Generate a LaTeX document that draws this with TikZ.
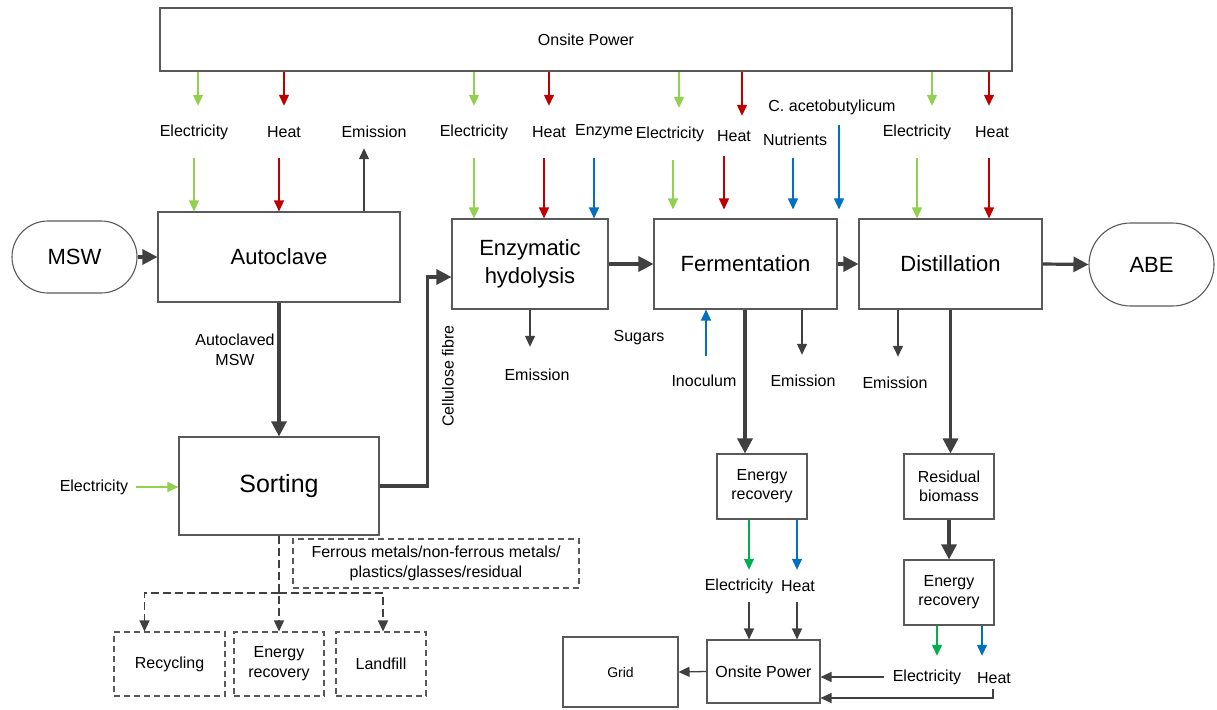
\documentclass[tikz,border=0pt]{standalone}
\usepackage{fontspec}
\setmainfont{Liberation Sans}
\usepackage{tikz}
\usetikzlibrary{arrows.meta,shapes.misc}
\definecolor{elecgreen}{HTML}{92D050}
\definecolor{outgreen}{HTML}{00B050}
\definecolor{heatred}{HTML}{C00000}
\definecolor{feedblue}{HTML}{0070C0}
\definecolor{flowgray}{HTML}{404040}
\definecolor{boxgray}{HTML}{595959}
\tikzset{>={Triangle[length=11pt,width=10pt]}}
\tikzset{
  proc/.style 2 args={draw=boxgray, line width=1.1pt, minimum width=#1,
    minimum height=#2, inner sep=0pt, align=center,
    font=\fontsize{22}{28}\selectfont},
  term/.style={rounded rectangle, draw=boxgray, line width=1.1pt,
    minimum width=125pt, minimum height=#1, inner sep=0pt,
    font=\fontsize{22}{28}\selectfont},
  smallbox/.style 2 args={proc={#1}{#2}, font=\fontsize{16}{19}\selectfont},
  optbox/.style 2 args={smallbox={#1}{#2}, dash pattern=on 6pt off 4pt,
    font=\fontsize{16}{20}\selectfont},
  lbl/.style={inner sep=0pt, minimum height=#1, align=center,
    font=\fontsize{16}{20}\selectfont},
  lbl/.default=52pt,
  elec/.style={elecgreen, line width=1.3pt, ->},
  elecout/.style={outgreen, line width=1.3pt, ->},
  heat/.style={heatred, line width=1.3pt, ->},
  feed/.style={feedblue, line width=1.3pt, ->},
  outflow/.style={flowgray, line width=1.3pt, ->},
  mainflow/.style={flowgray, line width=3.2pt, -{Triangle[length=15pt,width=15pt]}},
  sideflow/.style={flowgray, line width=1.4pt, dash pattern=on 8pt off 4pt},
}

\begin{document}
\begin{tikzpicture}[x=1pt,y=-1pt]
  \useasboundingbox (0,0) rectangle (1217,709);

  % Processes
  \node[proc={852pt}{63pt}, font=\fontsize{16}{19}\selectfont] (pow) at (586,39.5) {Onsite Power};
  \node[term=72pt]               (msw)  at (74.5,257)   {MSW};
  \node[proc={242pt}{90pt}]      (auto) at (279,257)    {Autoclave};
  \node[proc={156pt}{90pt}]      (enz)  at (530,264)    {Enzymatic\\hydolysis};
  \node[proc={183pt}{90pt}]      (ferm) at (745.5,264)  {Fermentation};
  \node[proc={183pt}{90pt}]      (dist) at (950.5,264)  {Distillation};
  \node[term=83pt]               (abe)  at (1151.5,264.5) {ABE};
  \node[proc={200pt}{98pt}, font=\fontsize{25}{30}\selectfont] (sort) at (279,486) {Sorting};

  \node[smallbox={90pt}{65pt}]   (er1)  at (762,486.5)  {Energy\\recovery};
  \node[smallbox={90pt}{65pt}]   (rb)   at (949,486.5)  {Residual\\biomass};
  \node[smallbox={90pt}{65pt}]   (er2)  at (949,592.5)  {Energy\\recovery};
  \node[smallbox={113pt}{63pt}]  (op)   at (763.5,671.5) {Onsite Power};
  \node[smallbox={115pt}{70pt}, font=\fontsize{14}{17}\selectfont] (grid) at (620.5,672) {Grid};

  \node[optbox={286pt}{49pt}]    (frac) at (436,563.5)  {Ferrous metals/non-ferrous metals/\\plastics/glasses/residual};
  \node[optbox={111pt}{64pt}]    (rec)  at (169.5,664)  {Recycling};
  \node[optbox={90pt}{64pt}]     (erd)  at (279,664)    {Energy\\recovery};
  \node[optbox={90pt}{64pt}]     (land) at (381,664)    {Landfill};

  % Inputs and outputs
  \node[lbl]        (e1) at (194,132) {Electricity};
  \node[lbl]        (h1) at (284,132) {Heat};
  \node[lbl=32pt]   (m1) at (374,132) {Emission};
  \node[lbl]        (e2) at (474,132) {Electricity};
  \node[lbl]        (h2) at (549,132) {Heat};
  \node[lbl]        (z2) at (604,132) {Enzyme};
  \node[lbl=56pt]   (m2) at (537,375) {Emission};
  \node[lbl]        (e3) at (670,134) {Electricity};
  \node[lbl=40pt]   (h3) at (734,136) {Heat};
  \node[lbl=36pt]   (n3) at (795,140) {Nutrients};
  \node[lbl=36pt]   (c3) at (832,107) {C. acetobutylicum};
  \node[lbl=0pt]    (s3) at (639,338) {Sugars};
  \node[lbl=50pt]   (i3) at (704,381) {Inoculum};
  \node[lbl]        (m3) at (803,381) {Emission};
  \node[lbl]        (e4) at (917,132) {Electricity};
  \node[lbl]        (h4) at (992,132) {Heat};
  \node[lbl]        (m4) at (895,383) {Emission};
  \node[lbl=20pt, inner xsep=8pt] (e5) at (94,487) {Electricity};
  \node[lbl=32pt]   (e6) at (739,586) {Electricity};
  \node[lbl=32pt]   (h6) at (798,586) {Heat};
  \node[lbl=42pt, inner xsep=9pt] (e7) at (927,677) {Electricity};
  \node[lbl=22pt]   (h7) at (994,678) {Heat};
  \node[lbl=0pt]    (amsw) at (235,350) {Autoclaved\\MSW};
  \node[lbl=0pt, rotate=90] (cel) at (448,376) {Cellulose fibre};

  % Edges
  \draw[mainflow] (msw.east) -- (auto.west);
  \draw[mainflow] (auto.south) -- (sort.north);
  \draw[mainflow] (sort.east) -| ([xshift=-24pt,yshift=-13pt]enz.west) -- ([yshift=-13pt]enz.west);
  \draw[mainflow] (enz.east) -- (ferm.west);
  \draw[mainflow] (ferm.east) -- (dist.west);
  \draw[mainflow] (dist.east) -- (abe.west);
  \draw[mainflow] ([xshift=-0.5pt]ferm.south) -- ([xshift=-0.5pt]ferm.south |- er1.north);
  \draw[mainflow] (dist.south) -- (dist.south |- rb.north);
  \draw[mainflow] (rb.south) -- (er2.north);

  \draw[elec] ([xshift=4pt]e1.north |- pow.south) -- ([xshift=4pt]e1.north);
  \draw[elec] (e1.south) -- (e1.south |- auto.north);
  \draw[heat] (h1.north |- pow.south) -- (h1.north);
  \draw[heat] ([xshift=-5pt]h1.south) -- ([xshift=-5pt]h1.south |- auto.north);
  \draw[outflow] ([xshift=-10pt]m1.south |- auto.north) -- ([xshift=-10pt]m1.south);

  \draw[elec] (e2.north |- pow.south) -- (e2.north);
  \draw[elec] (e2.south) -- (e2.south |- enz.north);
  \draw[heat] (h2.north |- pow.south) -- (h2.north);
  \draw[heat] ([xshift=-5pt]h2.south) -- ([xshift=-5pt]h2.south |- enz.north);
  \draw[feed] ([xshift=-10pt]z2.south) -- ([xshift=-10pt]z2.south |- enz.north);
  \draw[outflow] ([xshift=-7pt]m2.north |- enz.south) -- ([xshift=-7pt]m2.north);

  \draw[elec] ([xshift=9pt]e3.north |- pow.south) -- ([xshift=9pt]e3.north);
  \draw[elec] ([xshift=3pt]e3.south) -- ([xshift=3pt,yshift=9pt]e3.south |- ferm.north);
  \draw[heat] ([xshift=8pt]h3.north |- pow.south) -- ([xshift=8pt]h3.north);
  \draw[heat] ([xshift=-10pt]h3.south) -- ([xshift=-10pt,yshift=9pt]h3.south |- ferm.north);
  \draw[feed] ([xshift=-2pt]n3.south) -- ([xshift=-2pt,yshift=9pt]n3.south |- ferm.north);
  \draw[feed] ([xshift=7pt]c3.south) -- ([xshift=7pt,yshift=9pt]c3.south |- ferm.north);
  \draw[feed] ([xshift=2pt]i3.north) -- ([xshift=2pt]i3.north |- ferm.south);
  \draw[outflow] ([xshift=-1pt]m3.north |- ferm.south) -- ([xshift=-1pt]m3.north);

  \draw[elec] ([xshift=15pt]e4.north |- pow.south) -- ([xshift=15pt]e4.north);
  \draw[elec] (e4.south) -- (e4.south |- dist.north);
  \draw[heat] ([xshift=-3pt]h4.north |- pow.south) -- ([xshift=-3pt]h4.north);
  \draw[heat] ([xshift=-3pt]h4.south) -- ([xshift=-3pt]h4.south |- dist.north);
  \draw[outflow] ([xshift=3pt]m4.north |- dist.south) -- ([xshift=3pt]m4.north);

  \draw[elec] (e5.east) -- (sort.west |- e5.east);

  \draw[elecout] ([xshift=10pt]e6.north |- er1.south) -- ([xshift=10pt]e6.north);
  \draw[feed] ([xshift=-1pt]h6.north |- er1.south) -- ([xshift=-1pt]h6.north);
  \draw[outflow] ([xshift=10pt]e6.south) -- ([xshift=10pt]e6.south |- op.north);
  \draw[outflow] ([xshift=-1pt]h6.south) -- ([xshift=-1pt]h6.south |- op.north);
  \draw[outflow] (op.west) -- (grid.east);

  \draw[elecout] ([xshift=10pt]e7.north |- er2.south) -- ([xshift=10pt]e7.north);
  \draw[feed] ([xshift=-12pt]h7.north |- er2.south) -- ([xshift=-12pt,yshift=11pt]h7.north);
  \draw[outflow] (e7.west) -- (op.east |- e7.west);
  \draw[outflow] ([xshift=-1pt]h7.south) |- ([yshift=-26.5pt]op.east);

  % Sorted fractions
  \draw[sideflow, ->] (sort.south) -- (erd.north);
  \draw[sideflow, ->] ([yshift=38.5pt]erd.north) -| ([xshift=-25pt]rec.north);
  \draw[sideflow, ->] ([yshift=38.5pt]erd.north) -| ([xshift=2pt]land.north);

\end{tikzpicture}
\end{document}
